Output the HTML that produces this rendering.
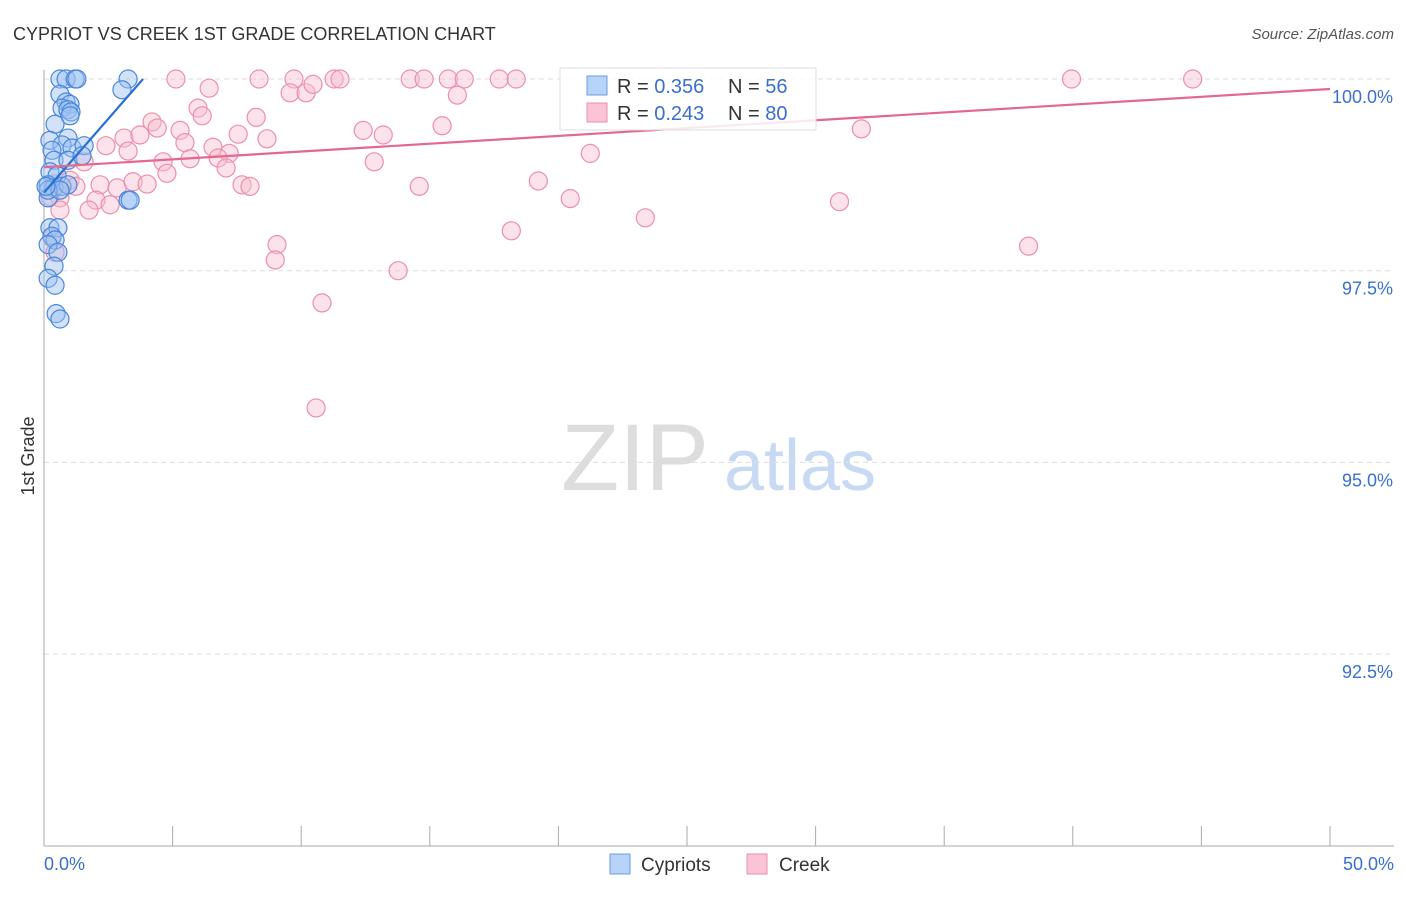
<!DOCTYPE html>
<html><head><meta charset="utf-8">
<style>
body{margin:0;background:#fff;font-family:"Liberation Sans",sans-serif;}
svg text{font-family:"Liberation Sans",sans-serif;}
</style></head>
<body>
<svg id="chart" width="1406" height="892" viewBox="0 0 1406 892">
<text x="13" y="40" font-size="18" fill="#333">CYPRIOT VS CREEK 1ST GRADE CORRELATION CHART</text>
<text x="1394" y="39" font-size="15" fill="#555" font-style="italic" text-anchor="end">Source: ZipAtlas.com</text>
<text x="34" y="456" font-size="18" fill="#333" transform="rotate(-90 34 456)" text-anchor="middle">1st Grade</text>
<g>
<text x="635" y="490" font-size="95" fill="#ddd" font-family="Liberation Serif" text-anchor="middle">ZIP</text>
<text x="800" y="490" font-size="72" fill="#c8daf3" text-anchor="middle">atlas</text>
</g>
<g id="grid"></g>
<g id="axes"></g>
<g id="pts"></g>
<g id="lines"></g>
<g>
<rect x="560" y="68" width="256" height="62" fill="#fff" fill-opacity="0.85" stroke="#ddd"/>
<rect x="587" y="76" width="20" height="19" fill="#b7d3f7" stroke="#6a9de0"/>
<rect x="587" y="103" width="20" height="19" fill="#fac4d4" stroke="#ea90ac"/>
<text x="617" y="93" font-size="20" fill="#333">R = <tspan fill="#3a6fd0">0.356</tspan><tspan x="728">N = </tspan><tspan fill="#3a6fd0">56</tspan></text>
<text x="617" y="120" font-size="20" fill="#333">R = <tspan fill="#3a6fd0">0.243</tspan><tspan x="728">N = </tspan><tspan fill="#3a6fd0">80</tspan></text>
</g>
<g>
<rect x="610" y="854" width="20" height="20" fill="#b7d3f7" stroke="#6a9de0"/>
<text x="641" y="871" font-size="19" fill="#333">Cypriots</text>
<rect x="747" y="854" width="20" height="20" fill="#fac4d4" stroke="#ea90ac"/>
<text x="779" y="871" font-size="19" fill="#333">Creek</text>
</g>
</svg>
<script>
const yTicks=[100,97.5,95,92.5];
const yTickLabels=["100.0%","97.5%","95.0%","92.5%"];
const xLabels=["0.0%","50.0%"];
const blueX=[0.62,0.86,1.21,1.28,3.27,3.03,0.62,0.86,1.01,0.70,0.93,1.05,1.01,0.43,0.23,0.93,0.70,1.09,1.56,0.31,0.39,0.93,1.48,0.23,0.51,0.16,0.39,0.70,0.93,0.16,3.27,3.35,0.23,0.54,0.31,0.43,0.16,0.54,0.39,0.16,0.43,0.47,0.62,0.16,0.62,0.08];
const blueY=[100,100,100,100,100,99.86,99.80,99.70,99.67,99.62,99.60,99.57,99.52,99.41,99.20,99.23,99.14,99.10,99.13,99.07,98.94,98.94,99.00,98.79,98.74,98.62,98.58,98.60,98.62,98.45,98.42,98.42,98.06,98.06,97.95,97.90,97.84,97.74,97.56,97.40,97.31,96.94,96.87,98.55,98.55,98.60];
const pinkX=[5.13,8.36,9.72,11.28,11.51,14.24,14.78,15.72,16.34,17.70,18.36,39.95,44.66,6.42,9.57,10.19,10.46,16.07,5.99,6.15,8.25,4.20,4.40,5.29,3.11,3.73,7.55,8.67,12.41,13.19,15.48,31.78,2.41,3.27,5.48,6.57,7.20,5.68,4.63,6.77,7.08,4.78,12.84,21.24,1.56,1.01,1.24,2.18,2.84,3.46,4.01,7.70,8.01,14.59,19.22,0.62,2.02,2.57,1.75,0.62,20.46,23.38,30.93,18.17,9.06,8.99,38.28,13.77,10.81,10.58,0.31,0.43,0.39,0.23];
const pinkY=[100,100,100,100,100,100,100,100,100,100,100,100,100,99.88,99.82,99.82,99.93,99.79,99.62,99.52,99.50,99.44,99.36,99.33,99.23,99.27,99.28,99.22,99.33,99.27,99.39,99.35,99.13,99.06,99.17,99.11,99.03,98.96,98.92,98.97,98.84,98.77,98.92,99.03,98.92,98.68,98.60,98.62,98.58,98.66,98.63,98.62,98.60,98.60,98.67,98.45,98.42,98.36,98.29,98.29,98.44,98.19,98.40,98.02,97.84,97.64,97.82,97.50,97.08,95.71,97.93,97.74,98.63,98.47];
const blueLine=[[0,98.52],[3.85,100]];
const pinkLine=[[0,98.85],[50,99.87]];
const X0=44,X1=1330,Y100=79,YPX=191.7/2.5;
const sx=v=>X0+(v/50)*(X1-X0);
const sy=v=>Y100+(100-v)*YPX;
const NS="http://www.w3.org/2000/svg";
function mk(t,a,p){const e=document.createElementNS(NS,t);for(const k in a)e.setAttribute(k,a[k]);p.appendChild(e);return e;}
const grid=document.getElementById('grid'),axes=document.getElementById('axes'),pts=document.getElementById('pts'),lines=document.getElementById('lines');
yTicks.forEach((t,i)=>{
 const l=mk('line',{x1:X0,x2:1394,y1:sy(t),y2:sy(t),stroke:'#ddd','stroke-dasharray':'5,4'},grid);
 
 
 const tx=mk('text',{x:1393,y:sy(t)+24,'font-size':18,fill:'#3a6fd0','text-anchor':'end'},axes);
 tx.textContent=yTickLabels[i];
 
 
});
const ya=mk('line',{x1:X0,x2:X0,y1:70,y2:846,stroke:'#aaa'},axes);


const xa=mk('line',{x1:X0,x2:1394,y1:846,y2:846,stroke:'#aaa'},axes);


for(let v=0;v<=50;v+=5){
 const t=mk('line',{x1:sx(v),x2:sx(v),y1:826,y2:846,stroke:'#aaa'},axes);
 
 
}
const xl0=mk('text',{x:44,y:870,'font-size':18,fill:'#3a6fd0'},axes);xl0.textContent=xLabels[0];


const xl1=mk('text',{x:1394,y:870,'font-size':18,fill:'#3a6fd0','text-anchor':'end'},axes);xl1.textContent=xLabels[1];


pinkX.forEach((x,i)=>{
 const c=mk('circle',{cx:sx(x),cy:sy(pinkY[i]),r:9,fill:'#f9bfd0','fill-opacity':0.45,stroke:'#ec8fac','stroke-width':1.2},pts);
 
 
});
blueX.forEach((x,i)=>{
 const c=mk('circle',{cx:sx(x),cy:sy(blueY[i]),r:9,fill:'#9cc2f2','fill-opacity':0.45,stroke:'#4a86dc','stroke-width':1.2},pts);
 
 
});
const bl=mk('line',{x1:sx(blueLine[0][0]),y1:sy(blueLine[0][1]),x2:sx(blueLine[1][0]),y2:sy(blueLine[1][1]),stroke:'#2a6fd6','stroke-width':2.2},lines);


const pl=mk('line',{x1:sx(pinkLine[0][0]),y1:sy(pinkLine[0][1]),x2:sx(pinkLine[1][0]),y2:sy(pinkLine[1][1]),stroke:'#e5678f','stroke-width':2.2},lines);


</script>
</body></html>
